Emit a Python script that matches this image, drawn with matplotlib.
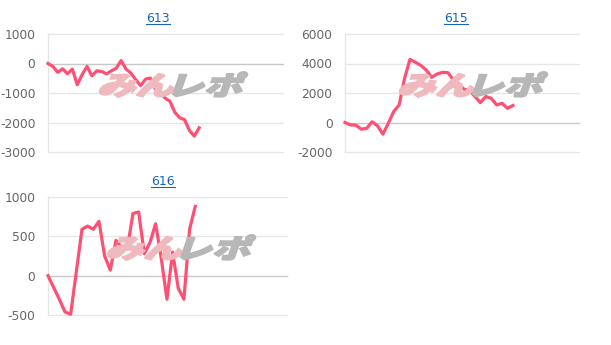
import matplotlib
matplotlib.use("Agg")
import matplotlib.pyplot as plt
import numpy as np
from matplotlib.textpath import TextPath
from matplotlib.font_manager import FontProperties
from matplotlib.patches import PathPatch
from matplotlib.path import Path
from matplotlib.lines import Line2D

plt.rcParams['font.family'] = ['DejaVu Sans']

# ---- data ----
titles = ["613", "615", "616"]
vals_613 = [0, -100, -300, -180, -350, -190, -720, -380, -100, -415, -250, -270,
            -350, -250, -160, 100, -190, -325, -550, -750, -530, -495, -865, -980,
            -1170, -1280, -1650, -1840, -1900, -2270, -2460, -2180]
vals_615 = [0, -160, -180, -450, -400, 50, -225, -790, -45, 745, 1190, 3000,
            4280, 4080, 3870, 3560, 3060, 3290, 3400, 3380, 2880, 2610, 2250, 2160,
            1760, 1350, 1760, 1640, 1190, 1300, 960, 1150]
vals_616 = [0, -150, -300, -460, -490, 50, 590, 630, 590, 690, 250, 70, 450, 360,
            340, 790, 810, 280, 420, 660, 220, -300, 300, -160, -300, 590, 880]
yticks_613 = [1000, 0, -1000, -2000, -3000]
yticks_615 = [6000, 4000, 2000, 0, -2000]
yticks_616 = [1000, 500, 0, -500]

W, H = 611, 345
fig = plt.figure(figsize=(W / 100, H / 100), dpi=100)

LINE = '#ff4f72'
GRID = '#e6e6e6'
ZERO = '#c8c8c8'
TICK = '#666666'
TITLE = '#1565c0'


def px_axes(l, r, t, b):
    return fig.add_axes([l / W, 1 - b / H, (r - l) / W, (b - t) / H])


def watermark(x0, y_top, w, h):
    fp = FontProperties(family='Noto Sans CJK JP', weight='black')
    p1 = TextPath((0, 0), "みん", size=1, prop=fp)
    p2 = TextPath((0, 0), "レポ", size=1, prop=fp)
    e1 = p1.get_extents()
    e2 = p2.get_extents()
    total_w = e1.width + e2.width
    hh = max(e1.y1, e2.y1) - min(e1.y0, e2.y0)
    ymin = min(e1.y0, e2.y0)
    sx = w / total_w
    sy = h / hh
    slant = 0.35
    for p, off, col in [(p1, -e1.x0, '#efb9bd'),
                        (p2, e1.width - e2.x0, '#b7b7b7')]:
        v = p.vertices.copy()
        xs = (v[:, 0] + off) * sx
        ys = (v[:, 1] - ymin) * sy
        xs = xs + ys * slant - h * slant * 0.5
        X = (x0 + xs) / W
        Y = (H - (y_top + h) + ys) / H
        path = Path(np.column_stack([X, Y]), p.codes)
        fig.add_artist(PathPatch(path, facecolor=col, edgecolor=col, lw=1.4,
                                 transform=fig.transFigure, zorder=0.5))


def draw(ax, vals, yticks, xmax):
    ax.set_facecolor('none')
    x = np.arange(len(vals))
    ax.plot(x, vals, color=LINE, lw=2.3, solid_joinstyle='round', zorder=3, clip_on=False)
    ax.set_xlim(0, xmax)
    ax.set_ylim(min(yticks), max(yticks))
    ax.set_yticks(yticks)
    ax.set_yticklabels([str(t) for t in yticks])
    ax.set_xticks([])
    for t in yticks:
        ax.axhline(t, color=ZERO if t == 0 else GRID, lw=1, zorder=1, clip_on=False)
    for s in ['top', 'right', 'bottom']:
        ax.spines[s].set_visible(False)
    ax.spines['left'].set_color(GRID)
    ax.spines['left'].set_linewidth(1)
    ax.tick_params(axis='y', length=0, pad=9, labelsize=8.8, labelcolor=TICK)


def title(txt, cx, cy):
    t = fig.text(cx / W, 1 - cy / H, txt, ha='center', va='center', color=TITLE, fontsize=9)
    fig.canvas.draw()
    bb = t.get_window_extent()
    yl = bb.y0 + 0.5
    fig.add_artist(Line2D([bb.x0 / W, bb.x1 / W], [yl / H, yl / H], color=TITLE, lw=0.8,
                          transform=fig.transFigure))


watermark(102, 72, 142, 25)
watermark(402, 72, 142, 25)
watermark(110, 235, 142, 25)

ax1 = px_axes(48, 283, 34, 152)
draw(ax1, vals_613, yticks_613, 48.2)
ax2 = px_axes(345, 579, 34, 152)
draw(ax2, vals_615, yticks_615, 43.2)
ax3 = px_axes(48, 287, 197, 315)
draw(ax3, vals_616, yticks_616, 42.2)

title(titles[0], 158, 18)
title(titles[1], 456, 18)
title(titles[2], 163, 181)

fig.savefig("out.png", dpi=100)
